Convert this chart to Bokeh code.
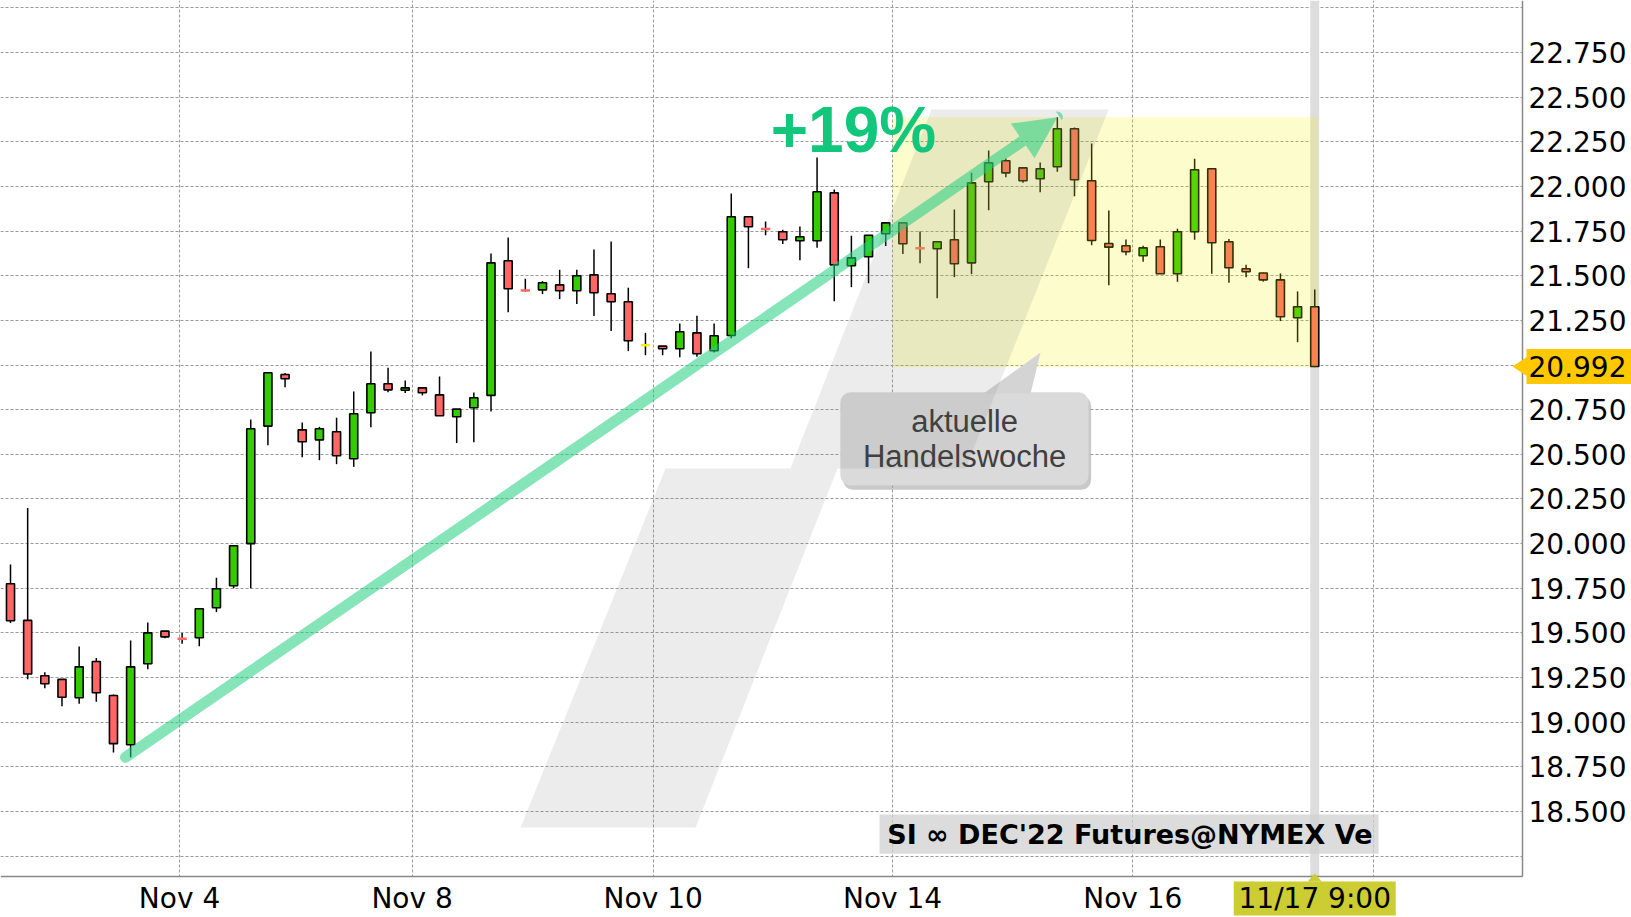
from bokeh.plotting import figure
from bokeh.models import (ColumnDataSource, Range1d, FixedTicker, NumeralTickFormatter,
                          BoxAnnotation, PolyAnnotation, Label, Arrow, NormalHead)
from bokeh.embed import file_html
from bokeh.resources import INLINE

# ---------------- data ----------------
opens = [19.775, 19.57, 19.26, 19.24, 19.137, 19.34, 19.15, 18.874, 19.327, 19.51,
         19.47, 19.473, 19.641, 19.764, 20.0, 20.658, 20.947, 20.637, 20.581, 20.626,
         20.475, 20.733, 20.895, 20.859, 20.872, 20.833, 20.71, 20.761, 20.83, 21.584,
         21.42, 21.421, 21.449, 21.416, 21.505, 21.399, 21.354, 21.111, 21.106, 21.091,
         21.18, 21.08, 21.165, 21.83, 21.763, 21.746, 21.696, 21.696, 21.964, 21.556,
         21.606, 21.735, 21.796, 21.656, 21.651, 21.701, 21.572, 22.026, 22.144, 22.104,
         22.043, 22.11, 22.323, 22.032, 21.68, 21.668, 21.612, 21.662, 21.511, 21.746,
         22.099, 21.69, 21.539, 21.515, 21.477, 21.265, 21.326]
highs = [19.883, 20.20, 19.28, 19.24, 19.424, 19.36, 19.155, 19.458, 19.558, 19.512,
         19.50, 19.635, 19.809, 19.99, 20.695, 20.957, 20.955, 20.678, 20.654, 20.705,
         20.852, 21.076, 20.985, 20.913, 20.875, 20.936, 20.753, 20.846, 21.625, 21.714,
         21.483, 21.47, 21.533, 21.533, 21.647, 21.692, 21.433, 21.18, 21.106, 21.233,
         21.276, 21.233, 21.96, 21.832, 21.804, 21.757, 21.776, 22.162, 21.983, 21.724,
         21.727, 21.8, 21.8, 21.748, 21.69, 21.871, 22.076, 22.201, 22.156, 22.106,
         22.134, 22.388, 22.33, 22.24, 21.865, 21.703, 21.668, 21.703, 21.763, 22.155,
         22.10, 21.705, 21.561, 21.517, 21.513, 21.412, 21.423]
lows = [19.555, 19.24, 19.19, 19.09, 19.103, 19.115, 18.83, 18.804, 19.297, 19.47,
        19.44, 19.426, 19.617, 19.75, 19.75, 20.551, 20.876, 20.484, 20.467, 20.445,
        20.43, 20.652, 20.848, 20.843, 20.83, 20.716, 20.563, 20.568, 20.74, 21.296,
        21.41, 21.397, 21.369, 21.341, 21.274, 21.19, 21.078, 21.055, 21.055, 21.044,
        21.046, 21.07, 21.15, 21.542, 21.727, 21.677, 21.587, 21.656, 21.357, 21.436,
        21.458, 21.666, 21.621, 21.57, 21.374, 21.492, 21.509, 21.867, 22.052, 22.02,
        21.968, 22.082, 21.945, 21.671, 21.447, 21.615, 21.578, 21.511, 21.466, 21.701,
        21.511, 21.46, 21.492, 21.467, 21.246, 21.128, 20.988]
closes = [19.568, 19.27, 19.215, 19.14, 19.31, 19.165, 18.88, 19.31, 19.50, 19.478,
          19.465, 19.635, 19.747, 19.988, 20.643, 20.957, 20.923, 20.57, 20.643, 20.492,
          20.727, 20.895, 20.861, 20.872, 20.845, 20.716, 20.753, 20.817, 21.572, 21.427,
          21.415, 21.461, 21.416, 21.5, 21.405, 21.354, 21.136, 21.111, 21.091, 21.186,
          21.063, 21.164, 21.83, 21.774, 21.76, 21.701, 21.718, 21.97, 21.561, 21.6,
          21.727, 21.796, 21.679, 21.652, 21.69, 21.567, 22.02, 22.132, 22.076, 22.032,
          22.099, 22.323, 22.037, 21.697, 21.66, 21.634, 21.656, 21.511, 21.746, 22.093,
          21.685, 21.545, 21.522, 21.477, 21.27, 21.326, 20.992]

# x-axis day ticks (candle-index positions) and labels
day_ticks = [9.85, 23.4, 37.45, 51.4, 65.4, 79.4]
day_labels = ["Nov 4", "Nov 8", "Nov 10", "Nov 14", "Nov 16", ""]
price_ticks = [18.25 + 0.25 * k for k in range(20)]
last_label = "20.992"
time_label = "11/17 9:00"
week_start = 51.4

title_text = "SI \u221e DEC'22 Futures@NYMEX Ve"
gain_text = "+19%"
callout_lines = ["aktuelle", "Handelswoche"]

# annotation geometry (candle index / price units)
band_xs = [53.67, 63.99, 55.65, 48.19, 39.92, 29.72, 38.17, 45.45]
band_ys = [22.431, 22.431, 20.42, 20.42, 18.41, 18.41, 20.42, 20.42]
callout_box = dict(left=48.37, right=62.82, top=20.846, bottom=20.326)
pointer_xs = [56.7, 59.44, 60.02]
pointer_ys = [20.84, 20.84, 21.07]
title_box = dict(left=50.64, right=79.72, top=18.483, bottom=18.264)

# ---------------- layout ----------------
W, H = 1631, 917
x0, x1 = -0.583, -0.583 + W / 17.161
y1 = 23.041
y0 = y1 - H / 178.6
PX = (x1 - x0) / W          # one pixel in x data units
PY = (y1 - y0) / H          # one pixel in y data units
axis_x = x0 + 1522 * PX     # right price axis position
axis_y = y1 - 876 * PY      # bottom time axis position

# ---------------- derived ----------------
n = len(opens)
idx = list(range(n))
last = n - 1
GREEN, RED, YEL = "#33cc00", "#ff6666", "#ffee00"

body = dict(x=[], top=[], bottom=[], color=[])
doji = dict(x0=[], x1=[], y=[], color=[])
for i in idx:
    o, c = opens[i], closes[i]
    if abs(o - c) < 0.01:
        doji["x0"].append(i - 0.27)
        doji["x1"].append(i + 0.27)
        doji["y"].append((o + c) / 2)
        doji["color"].append(YEL if o == c else (GREEN if c > o else RED))
    else:
        body["x"].append(i)
        body["top"].append(max(o, c))
        body["bottom"].append(min(o, c))
        body["color"].append(GREEN if c > o else RED)

p = figure(frame_width=W, frame_height=H, x_range=Range1d(x0, x1),
           y_range=Range1d(y0, y1), output_backend="svg", toolbar_location=None,
           y_axis_location="right", min_border_left=0, min_border_top=0,
           min_border_right=0, min_border_bottom=0)
p.outline_line_color = None
p.background_fill_color = "white"

# axes (drawn at fixed positions inside the canvas)
p.xaxis.ticker = FixedTicker(ticks=day_ticks)
p.xaxis.major_label_overrides = {t: l for t, l in zip(day_ticks, day_labels)}
p.xaxis.fixed_location = axis_y
p.xaxis.bounds = (x0, axis_x)
p.yaxis.ticker = FixedTicker(ticks=price_ticks)
p.yaxis.formatter = NumeralTickFormatter(format="0.000")
p.yaxis.major_label_overrides = {18.25: "", 21.0: "", 23.0: ""}
p.yaxis.fixed_location = axis_x
p.yaxis.bounds = (axis_y, y1)
for ax in (p.xaxis, p.yaxis):
    ax.axis_line_color = "#888888"
    ax.axis_line_width = 1.5
    ax.major_tick_line_color = None
    ax.minor_tick_line_color = None
    ax.major_tick_out = 0
    ax.major_tick_in = 0
    ax.major_label_text_font = "DejaVu Sans"
    ax.major_label_text_font_size = "28px"
    ax.major_label_text_color = "black"
p.xaxis.major_label_standoff = 5
p.yaxis.major_label_standoff = 6
for g in (p.xgrid, p.ygrid):
    g.grid_line_color = "#999999"
    g.grid_line_dash = "3 2"
    g.grid_line_width = 1
p.xgrid.ticker = FixedTicker(ticks=day_ticks)
p.ygrid.ticker = FixedTicker(ticks=price_ticks)

# keep grid lines inside the axes
p.add_layout(BoxAnnotation(left=axis_x, right=x1, bottom=y0, top=y1, fill_color="white",
                           fill_alpha=1, line_color=None, level="underlay"))
p.add_layout(BoxAnnotation(left=x0, right=x1, bottom=y0, top=axis_y, fill_color="white",
                           fill_alpha=1, line_color=None, level="underlay"))

# crosshair band on last candle
p.vbar(x=[last], width=0.52, top=[y1], bottom=[axis_y], fill_color="#dddddd",
       line_color=None)

# candles
src = ColumnDataSource(dict(x=idx, low=lows, high=highs))
p.segment(x0="x", y0="low", x1="x", y1="high", source=src, line_color="black",
          line_width=1.5)
p.vbar(x="x", width=0.47, top="top", bottom="bottom", fill_color="color",
       line_color="black", line_width=1.6, source=ColumnDataSource(body))
p.segment(x0="x0", y0="y", x1="x1", y1="y", line_color="color", line_width=2.5,
          source=ColumnDataSource(doji))

# current week highlight
wk = [i for i in idx if i > week_start]
p.add_layout(BoxAnnotation(left=week_start, right=last + 0.17,
                           top=max(highs[i] for i in wk), bottom=min(lows[i] for i in wk),
                           fill_color="#f0f000", fill_alpha=0.2, line_color=None))

# title watermark
p.add_layout(BoxAnnotation(**title_box, fill_color="#d0d0d0", fill_alpha=0.75,
                           line_color=None))
p.add_layout(Label(x=title_box["left"] + 0.45, y=(title_box["top"] + title_box["bottom"]) / 2,
                   text=title_text, text_font="DejaVu Sans", text_font_style="bold",
                   text_font_size="27px", text_baseline="middle", text_color="black"))

# callout box
p.add_layout(BoxAnnotation(left=callout_box["left"] + 0.15, right=callout_box["right"] + 0.15,
                           top=callout_box["top"] - 0.02, bottom=callout_box["bottom"] - 0.025,
                           fill_color="#888888", fill_alpha=0.45, line_color=None,
                           border_radius=10))
p.add_layout(BoxAnnotation(**callout_box, fill_color="#dadada", fill_alpha=1.0,
                           line_color="#cfcfcf", border_radius=10))
p.add_layout(PolyAnnotation(xs=pointer_xs, ys=pointer_ys, fill_color="#d4d4d4",
                            fill_alpha=1.0, line_color=None))

# big gray band shape
p.add_layout(PolyAnnotation(xs=band_xs, ys=band_ys, fill_color="#808080",
                            fill_alpha=0.15, line_color=None))

cx = (callout_box["left"] + callout_box["right"]) / 2
cy = (callout_box["top"] + callout_box["bottom"]) / 2
for k, t in enumerate(callout_lines):
    p.add_layout(Label(x=cx, y=cy + (0.095 if k == 0 else -0.1), text=t,
                       text_font="Liberation Sans", text_font_size="31px",
                       text_color="#404040", text_align="center", text_baseline="middle"))

# gain arrow
i_lo = min(idx, key=lambda i: lows[i])
i_hi = max(idx, key=lambda i: highs[i])
p.add_layout(Arrow(x_start=i_lo - 0.3, y_start=lows[i_lo], x_end=i_hi, y_end=highs[i_hi],
                   line_color="#20d080", line_alpha=0.55, line_width=11, line_cap="round",
                   end=NormalHead(size=42, fill_color="#20d080", fill_alpha=0.55,
                                  line_color=None)))
p.add_layout(Label(x=44.3, y=22.52, text=gain_text, text_font="Liberation Sans",
                   text_font_style="bold", text_font_size="64px", text_color="#12c77c",
                   text_baseline="top"))

# last price tag on the right axis
TAG1 = "#ffc800"
p.add_layout(BoxAnnotation(left=axis_x + 4 * PX, right=axis_x + 109 * PX,
                           top=closes[-1] + 17.5 * PY, bottom=closes[-1] - 17.5 * PY,
                           fill_color=TAG1, fill_alpha=1, line_color=None))
p.add_layout(PolyAnnotation(xs=[axis_x - 10 * PX, axis_x + 5 * PX, axis_x + 5 * PX],
                            ys=[closes[-1], closes[-1] + 10 * PY, closes[-1] - 10 * PY],
                            fill_color=TAG1, fill_alpha=1, line_color=None))
p.add_layout(Label(x=axis_x, y=closes[-1], x_offset=6, text=last_label,
                   text_font="DejaVu Sans", text_font_size="28px", text_color="black",
                   text_baseline="middle", text_align="left"))

# time tag on the x axis
TAG2 = "#cccc33"
p.add_layout(BoxAnnotation(left=last - 81 * PX, right=last + 81 * PX,
                           top=axis_y - 5 * PY, bottom=axis_y - 39 * PY,
                           fill_color=TAG2, fill_alpha=1, line_color=None))
p.add_layout(PolyAnnotation(xs=[last, last - 7 * PX, last + 7 * PX],
                            ys=[axis_y + 3 * PY, axis_y - 5 * PY, axis_y - 5 * PY],
                            fill_color=TAG2, fill_alpha=1, line_color=None))
p.add_layout(Label(x=last, y=axis_y - 22 * PY, text=time_label,
                   text_font="DejaVu Sans", text_font_size="28px", text_color="black",
                   text_baseline="middle", text_align="center"))

open("out.html", "w").write(file_html(p, INLINE))
